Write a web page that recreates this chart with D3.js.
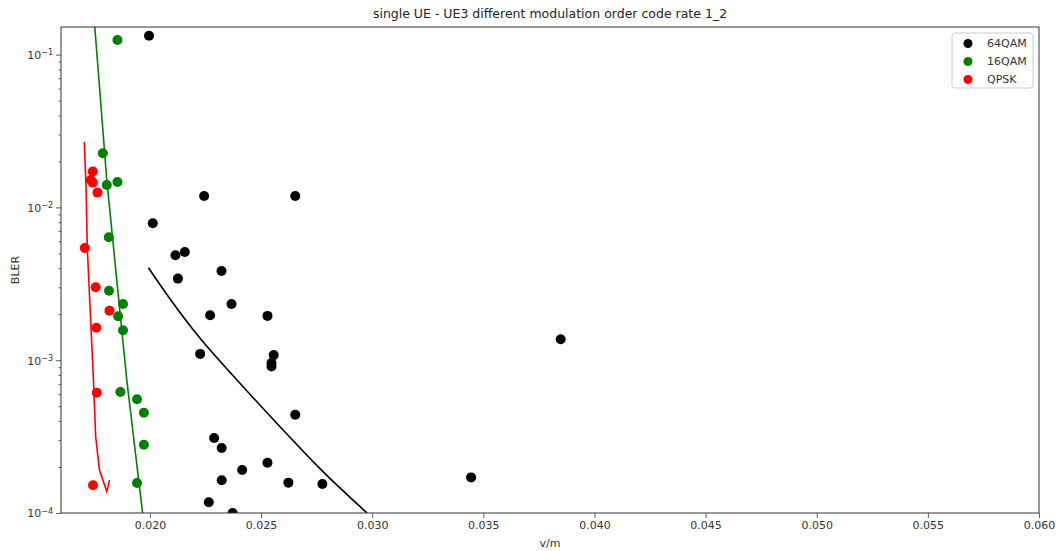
<!DOCTYPE html>
<html><head><meta charset="utf-8">
<script src="https://cdn.jsdelivr.net/npm/d3@7"></script>
<style>body{margin:0;background:#fff;} text{font-family:"DejaVu Sans",sans-serif;}</style>
</head><body><svg id="c" width="1061" height="551"></svg>
<script>
// ---- data ----
const seriesNames = ["64QAM", "16QAM", "QPSK"];
const seriesColors = ["#000000", "#008000", "#ff0000"];

const qam64X = [0.01996,0.02244,0.02654,0.02013,0.02115,0.02157,0.02322,0.02126,0.02367,0.02271,0.02529,0.02226,0.02557,0.02547,0.02547,0.03848,0.02654,0.02289,0.02323,0.02529,0.02415,0.02323,0.02623,0.02776,0.03445,0.02265,0.02372];
const qam64Y = [0.133,0.01188,0.01188,0.00787,0.00486,0.00511,0.00384,0.00342,0.00233,0.00197,0.00195,0.0011,0.00108,0.000959,0.00091,0.00137,0.00044,0.00031,0.000266,0.000213,0.000191,0.000164,0.000158,0.000155,0.000171,0.0001175,0.0001];

const qam16X = [0.01854,0.01788,0.01806,0.01854,0.01815,0.01816,0.01879,0.01857,0.01879,0.01867,0.01942,0.01973,0.01973,0.01942];
const qam16Y = [0.1246,0.0226,0.0140,0.01466,0.00637,0.00285,0.00233,0.00194,0.00157,0.000619,0.000555,0.000453,0.00028,0.000157];

const qpskX = [0.01743,0.01734,0.01743,0.01764,0.01707,0.01756,0.01818,0.01759,0.01761,0.01744];
const qpskY = [0.01718,0.0151,0.0145,0.0125,0.00542,0.0030,0.00211,0.00163,0.000613,0.000152];

// fitted curves
const fit64X = [0.019932,0.02094,0.02226,0.02399,0.02578,0.02764,0.02977];
const fit64Y = [0.00403,0.00248,0.00139,0.000723,0.000377,0.000196,0.0001];
const fit16X = [0.01752,0.01806,0.01896,0.01967];
const fit16Y = [0.1516,0.0151,0.000742,0.0001];
const fitQX = [0.01705,0.01713,0.01718,0.01745,0.01756,0.01773,0.01806,0.01818];
const fitQY = [0.0269,0.0130,0.00553,0.0008,0.000316,0.000191,0.000138,0.000164];

const xTicks = [0.020,0.025,0.030,0.035,0.040,0.045,0.050,0.055,0.060];
const yTicks = [1e-4,1e-3,1e-2,1e-1];
const yTickExp = ["\u22124","\u22123","\u22122","\u22121"];
const xDomain = [0.016, 0.060];
const yDomain = [1e-4, 0.1516];

const titleText = "single UE - UE3 different modulation order code rate 1_2";
const xLabel = "v/m", yLabel = "BLER";

// ---- layout ----
const L = 61, R = 1039, T = 27, B = 513;
const svg = d3.select("#c");
const x = d3.scaleLinear().domain(xDomain).range([L, R]);
const y = d3.scaleLog().domain(yDomain).range([B, T]);

svg.append("defs").append("clipPath").attr("id","clip")
  .append("rect").attr("x",L).attr("y",T).attr("width",R-L).attr("height",B-T);

const g = svg.append("g").attr("clip-path","url(#clip)");
const lineSmooth = d3.line().x(d=>x(d[0])).y(d=>y(d[1])).curve(d3.curveMonotoneX);
const lineStraight = d3.line().x(d=>x(d[0])).y(d=>y(d[1]));

const fits = [[fit64X,fit64Y],[fit16X,fit16Y],[fitQX,fitQY]];
const pts = [[qam64X,qam64Y],[qam16X,qam16Y],[qpskX,qpskY]];

fits.forEach((f,i)=>{
  g.append("path").datum(d3.zip(f[0],f[1]))
   .attr("d", i===0 ? lineSmooth : lineStraight).attr("fill","none")
   .attr("stroke",seriesColors[i]).attr("stroke-width",1.6);
});
pts.forEach((p,i)=>{
  g.selectAll(null).data(d3.zip(p[0],p[1])).enter().append("circle")
   .attr("cx",d=>x(d[0])).attr("cy",d=>y(d[1])).attr("r",5).attr("fill",seriesColors[i]);
});

// axes
const axCol = "#333";
const xa = svg.append("g").attr("transform",`translate(0,${B})`)
  .call(d3.axisBottom(x).tickValues(xTicks).tickFormat(d3.format(".3f")).tickSize(5).tickSizeOuter(0));
const ya = svg.append("g").attr("transform",`translate(${L},0)`)
  .call(d3.axisLeft(y).tickValues(yTicks).tickFormat("").tickSize(5).tickSizeOuter(0));
const minor = [];
for (let e=-4;e<0;e++) for (let m=2;m<10;m++){ const v=m*Math.pow(10,e); if(v<=yDomain[1]) minor.push(v); }
svg.append("g").attr("transform",`translate(${L},0)`)
  .call(d3.axisLeft(y).tickValues(minor).tickFormat("").tickSize(2.5).tickSizeOuter(0))
  .call(s=>s.select(".domain").remove());
[xa,ya].forEach(a=>{a.select(".domain").remove();});
svg.selectAll(".tick line").attr("stroke",axCol).attr("stroke-width",0.8);
xa.selectAll("text").attr("font-size",11).attr("fill","#333").attr("font-family","DejaVu Sans");

// y labels with superscript
ya.selectAll(".tick").each(function(d,i){
  const t = d3.select(this).append("text").attr("x",-8).attr("dy","0.35em")
    .attr("text-anchor","end").attr("fill","#333").attr("font-size",11).attr("font-family","DejaVu Sans");
  t.append("tspan").text("10");
  t.append("tspan").attr("dy","-0.45em").attr("font-size",8).text(yTickExp[yTicks.indexOf(d)]);
});

// frame
svg.append("rect").attr("x",L).attr("y",T).attr("width",R-L).attr("height",B-T)
  .attr("fill","none").attr("stroke",axCol).attr("stroke-width",1);

// title & labels
svg.append("text").attr("x",(L+R)/2).attr("y",18).attr("text-anchor","middle")
  .attr("font-size",12.5).attr("fill","#222").text(titleText);
svg.append("text").attr("x",(L+R)/2).attr("y",547).attr("text-anchor","middle")
  .attr("font-size",11).attr("fill","#333").text(xLabel);
svg.append("text").attr("transform",`translate(19,${(T+B)/2}) rotate(-90)`).attr("text-anchor","middle")
  .attr("font-size",11).attr("fill","#333").text(yLabel);

// legend
const lg = svg.append("g");
lg.append("rect").attr("x",952).attr("y",33).attr("width",81).attr("height",55).attr("rx",3)
  .attr("fill","#fff").attr("stroke","#ccc").attr("stroke-width",1);
seriesNames.forEach((n,i)=>{
  const yy = 43.5 + i*18;
  lg.append("circle").attr("cx",968).attr("cy",yy).attr("r",4.5).attr("fill",seriesColors[i]);
  lg.append("text").attr("x",987).attr("y",yy).attr("dy","0.35em").attr("font-size",11)
    .attr("fill","#333").text(n);
});
</script></body></html>
